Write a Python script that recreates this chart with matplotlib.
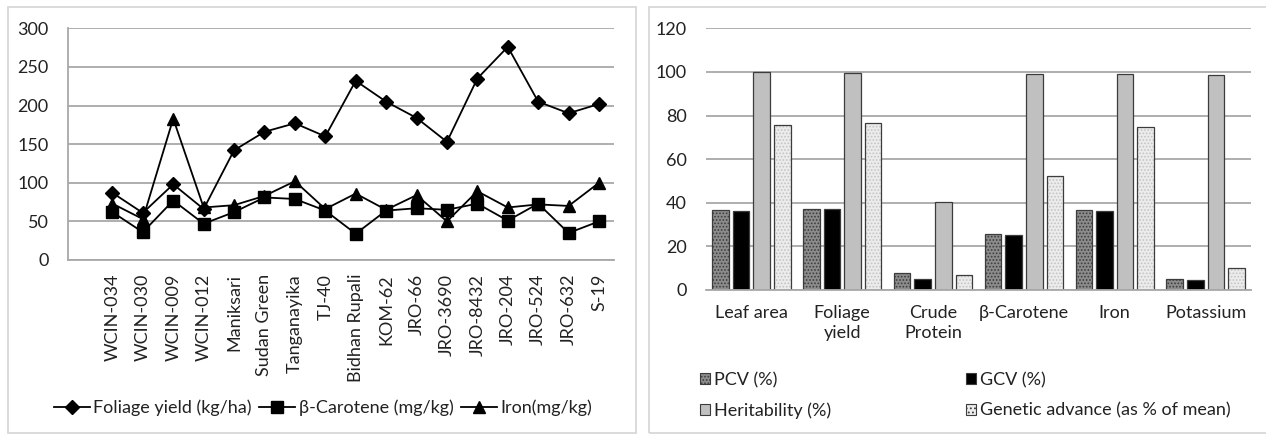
import matplotlib
matplotlib.use("Agg")
import matplotlib.pyplot as plt
from matplotlib.patches import Rectangle
import numpy as np

plt.rcParams['font.family'] = ['Lato', 'DejaVu Sans']
plt.rcParams['hatch.linewidth'] = 0.8

# left chart data: genotypes
genotypes = ['WCIN-034', 'WCIN-030', 'WCIN-009', 'WCIN-012', 'Maniksari', 'Sudan Green',
             'Tanganayika', 'TJ-40', 'Bidhan Rupali', 'KOM-62', 'JRO-66', 'JRO-3690',
             'JRO-8432', 'JRO-204', 'JRO-524', 'JRO-632', 'S-19']
foliage_yield = [87, 61, 98, 66, 142, 166, 177, 160, 232, 205, 184, 153, 235, 276, 205, 190, 202]
beta_carotene = [62, 36, 77, 47, 62, 81, 79, 64, 34, 64, 67, 65, 73, 51, 73, 35, 50]
iron = [73, 53, 183, 68, 71, 83, 102, 66, 86, 65, 84, 50, 89, 68, 72, 70, 100]

# right chart data: traits
traits = ['Leaf area', 'Foliage\nyield', 'Crude\nProtein', 'β-Carotene', 'Iron', 'Potassium']
pcv = [36.7, 37.3, 7.6, 25.5, 36.7, 4.9]
gcv = [36.4, 37.0, 4.9, 25.2, 36.4, 4.6]
heritability = [100.0, 99.5, 40.2, 99.0, 99.0, 98.8]
genetic_advance = [75.7, 76.8, 6.7, 52.3, 74.9, 9.9]

W, H = 1266, 434
fig = plt.figure(figsize=(W / 100, H / 100), dpi=100)

text_col = '#222222'
grid_col = '#a8a8a8'
fs = 13

# panel frames
for x0, x1 in [(8, 636), (649, 1270)]:
    fig.patches.append(Rectangle((x0 / W, 1 - 433 / H), (x1 - x0) / W, (433 - 7) / H,
                                 transform=fig.transFigure, fill=False,
                                 edgecolor='#d4d4d4', linewidth=1.2))

# ---- left: line chart ----
ax1 = fig.add_axes([68 / W, 1 - 260 / H, (613.6 - 68) / W, (260 - 28.3) / H])
x = np.arange(len(genotypes))
line_kw = dict(color='black', linewidth=1.3, markeredgecolor='black')
ax1.plot(x, foliage_yield, marker='D', markersize=7, label='Foliage yield (kg/ha)', **line_kw)
ax1.plot(x, beta_carotene, marker='s', markersize=8, label='β-Carotene (mg/kg)', **line_kw)
ax1.plot(x, iron, marker='^', markersize=8.5, label='Iron(mg/kg)', **line_kw)
ax1.set_ylim(0, 300)
ax1.set_yticks(range(0, 301, 50))
ax1.set_xlim(-1.46, 16.48)
ax1.set_xticks(x)
ax1.set_xticklabels(genotypes, rotation=90, va='top', ha='center')
ax1.grid(axis='y', color=grid_col, linewidth=1.3)
ax1.set_axisbelow(True)
for s in ['top', 'right']:
    ax1.spines[s].set_visible(False)
for s in ['left', 'bottom']:
    ax1.spines[s].set_color(grid_col)
    ax1.spines[s].set_linewidth(1.3)
ax1.tick_params(axis='y', length=0, pad=14, labelsize=fs, labelcolor=text_col)
ax1.tick_params(axis='x', length=0, pad=10, labelsize=fs, labelcolor=text_col)

fig.legend(handles=ax1.get_lines(), loc='center', bbox_to_anchor=(323 / W, 1 - 408 / H),
           ncol=3, frameon=False, fontsize=fs, handlelength=2.0, handletextpad=0.2,
           columnspacing=0.4, borderpad=0, borderaxespad=0, labelcolor=text_col)

# ---- right: grouped bar chart ----
ax2 = fig.add_axes([706 / W, 1 - 290 / H, (1251 - 706) / W, (290 - 28.3) / H])
xt = np.arange(len(traits))
bw = 0.183
step = 0.227
edge = '#3c3c3c'
ax2.bar(xt - 1.5 * step, pcv, bw, color='#8c8c8c', edgecolor=edge, hatch='.....',
        linewidth=0.9, label='PCV (%)')
ax2.bar(xt - 0.5 * step, gcv, bw, color='black', edgecolor=edge,
        linewidth=0.9, label='GCV (%)')
ax2.bar(xt + 0.5 * step, heritability, bw, color='#c0c0c0', edgecolor=edge,
        linewidth=0.9, label='Heritability (%)')
ax2.bar(xt + 1.5 * step, genetic_advance, bw, color='#ececec', edgecolor='#c4c4c4',
        hatch='.....', linewidth=0)
ax2.bar(xt + 1.5 * step, genetic_advance, bw, color='none', edgecolor=edge,
        linewidth=0.9, label='Genetic advance (as % of mean)')
ax2.set_ylim(0, 120)
ax2.set_yticks(range(0, 121, 20))
ax2.set_xlim(-0.5, 5.5)
ax2.set_xticks(xt)
ax2.set_xticklabels(traits, linespacing=1.3)
ax2.grid(axis='y', color=grid_col, linewidth=1.3)
ax2.set_axisbelow(True)
for s in ['top', 'right', 'left']:
    ax2.spines[s].set_visible(False)
ax2.spines['bottom'].set_color(grid_col)
ax2.spines['bottom'].set_linewidth(1.3)
ax2.tick_params(axis='y', length=0, pad=14, labelsize=fs, labelcolor=text_col)
ax2.tick_params(axis='x', length=0, pad=11, labelsize=fs, labelcolor=text_col)

# legend in two columns, placed like the reference
pcv_h = Rectangle((0, 0), 1, 1, facecolor='#8c8c8c', edgecolor=edge, hatch='.....', linewidth=0.8)
gcv_h = Rectangle((0, 0), 1, 1, facecolor='black', edgecolor=edge, linewidth=0.8)
her_h = Rectangle((0, 0), 1, 1, facecolor='#c0c0c0', edgecolor=edge, linewidth=0.8)
ga_h = Rectangle((0, 0), 1, 1, facecolor='#ececec', edgecolor=edge, hatch='....', linewidth=0.8)
leg_kw = dict(loc='center left', frameon=False, fontsize=fs, handlelength=0.55,
              handleheight=0.55, handletextpad=0.25, labelspacing=0.8,
              borderpad=0, borderaxespad=0, labelcolor=text_col)
fig.legend([pcv_h, her_h], ['PCV (%)', 'Heritability (%)'],
           bbox_to_anchor=(700 / W, 1 - 395.5 / H), **leg_kw)
fig.legend([gcv_h, ga_h], ['GCV (%)', 'Genetic advance (as % of mean)'],
           bbox_to_anchor=(966 / W, 1 - 395.5 / H), **leg_kw)

fig.savefig('out.png', dpi=100)
